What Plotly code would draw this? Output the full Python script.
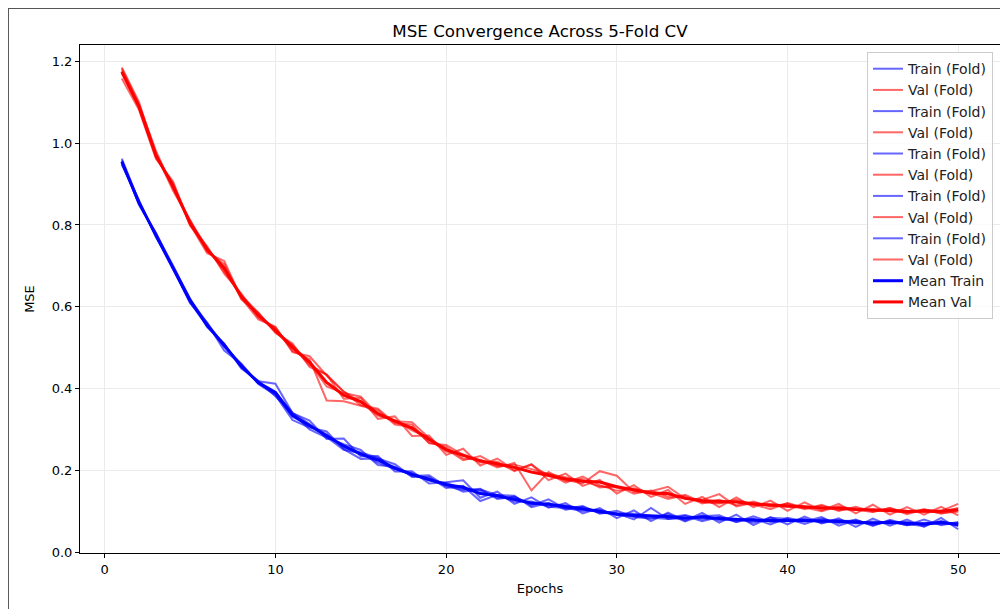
import numpy as np
import plotly.graph_objects as go

# Эпохи
epochs = list(range(1, 51))

# MSE на обучении по фолдам
train_f1 = [0.962, 0.858, 0.772, 0.690, 0.611, 0.552, 0.508, 0.452, 0.418, 0.412,
            0.340, 0.322, 0.277, 0.278, 0.234, 0.235, 0.197, 0.198, 0.168, 0.171,
            0.176, 0.133, 0.148, 0.118, 0.134, 0.109, 0.120, 0.095, 0.108, 0.083,
            0.102, 0.076, 0.097, 0.077, 0.096, 0.072, 0.092, 0.066, 0.086, 0.068,
            0.087, 0.070, 0.083, 0.062, 0.082, 0.065, 0.080, 0.062, 0.084, 0.056]
train_f2 = [0.951, 0.852, 0.779, 0.701, 0.618, 0.560, 0.493, 0.460, 0.411, 0.384,
            0.323, 0.305, 0.295, 0.252, 0.228, 0.229, 0.215, 0.184, 0.184, 0.157,
            0.162, 0.125, 0.140, 0.138, 0.110, 0.121, 0.104, 0.111, 0.096, 0.095,
            0.080, 0.108, 0.081, 0.083, 0.088, 0.090, 0.074, 0.082, 0.068, 0.084,
            0.075, 0.086, 0.065, 0.078, 0.066, 0.077, 0.066, 0.080, 0.066, 0.074]
train_f3 = [0.947, 0.861, 0.770, 0.698, 0.620, 0.550, 0.510, 0.449, 0.419, 0.381,
            0.339, 0.300, 0.280, 0.264, 0.250, 0.213, 0.209, 0.186, 0.188, 0.161,
            0.152, 0.155, 0.130, 0.136, 0.114, 0.129, 0.106, 0.113, 0.094, 0.101,
            0.086, 0.082, 0.093, 0.075, 0.090, 0.078, 0.082, 0.072, 0.084, 0.082,
            0.069, 0.082, 0.071, 0.080, 0.064, 0.079, 0.068, 0.064, 0.076, 0.064]
train_f4 = [0.958, 0.849, 0.781, 0.693, 0.609, 0.561, 0.502, 0.461, 0.413, 0.386,
            0.331, 0.309, 0.288, 0.255, 0.244, 0.231, 0.204, 0.193, 0.175, 0.169,
            0.155, 0.150, 0.133, 0.134, 0.118, 0.116, 0.114, 0.107, 0.099, 0.095,
            0.094, 0.089, 0.085, 0.091, 0.080, 0.085, 0.078, 0.081, 0.076, 0.078,
            0.080, 0.075, 0.079, 0.070, 0.075, 0.070, 0.073, 0.068, 0.072, 0.070]
train_f5 = [0.955, 0.856, 0.774, 0.694, 0.617, 0.554, 0.509, 0.453, 0.413, 0.389,
            0.341, 0.313, 0.281, 0.250, 0.242, 0.219, 0.203, 0.190, 0.176, 0.167,
            0.148, 0.153, 0.140, 0.124, 0.124, 0.111, 0.108, 0.101, 0.104, 0.091,
            0.088, 0.084, 0.081, 0.089, 0.076, 0.086, 0.074, 0.088, 0.074, 0.076,
            0.081, 0.072, 0.077, 0.076, 0.070, 0.075, 0.066, 0.072, 0.068, 0.072]

# MSE на валидации по фолдам
val_f1 = [1.182, 1.095, 0.981, 0.889, 0.812, 0.735, 0.704, 0.618, 0.586, 0.536,
          0.510, 0.453, 0.434, 0.375, 0.377, 0.326, 0.332, 0.284, 0.285, 0.238,
          0.253, 0.212, 0.229, 0.200, 0.215, 0.176, 0.192, 0.162, 0.177, 0.143,
          0.164, 0.135, 0.152, 0.118, 0.135, 0.110, 0.134, 0.110, 0.126, 0.101,
          0.122, 0.102, 0.118, 0.095, 0.116, 0.092, 0.110, 0.092, 0.111, 0.090]
val_f2 = [1.176, 1.087, 0.965, 0.902, 0.798, 0.748, 0.681, 0.632, 0.573, 0.549,
          0.492, 0.472, 0.371, 0.369, 0.358, 0.347, 0.312, 0.306, 0.268, 0.257,
          0.229, 0.226, 0.207, 0.218, 0.151, 0.196, 0.174, 0.179, 0.158, 0.162,
          0.143, 0.151, 0.135, 0.137, 0.119, 0.128, 0.115, 0.124, 0.111, 0.119,
          0.105, 0.116, 0.101, 0.111, 0.099, 0.108, 0.096, 0.105, 0.094, 0.103]
val_f3 = [1.158, 1.082, 0.962, 0.906, 0.801, 0.731, 0.712, 0.621, 0.569, 0.551,
          0.489, 0.479, 0.432, 0.392, 0.359, 0.351, 0.316, 0.312, 0.266, 0.262,
          0.238, 0.219, 0.221, 0.198, 0.214, 0.186, 0.177, 0.168, 0.198, 0.187,
          0.147, 0.149, 0.160, 0.131, 0.128, 0.142, 0.112, 0.121, 0.114, 0.111,
          0.108, 0.113, 0.103, 0.107, 0.102, 0.100, 0.098, 0.102, 0.096, 0.099]
val_f4 = [1.185, 1.101, 0.974, 0.884, 0.810, 0.744, 0.686, 0.629, 0.585, 0.538,
          0.504, 0.458, 0.434, 0.393, 0.366, 0.334, 0.323, 0.298, 0.279, 0.246,
          0.239, 0.224, 0.211, 0.214, 0.203, 0.191, 0.183, 0.174, 0.161, 0.158,
          0.152, 0.143, 0.141, 0.132, 0.124, 0.121, 0.123, 0.116, 0.117, 0.114,
          0.111, 0.108, 0.107, 0.104, 0.103, 0.104, 0.101, 0.099, 0.101, 0.118]
val_f5 = [1.171, 1.088, 0.970, 0.894, 0.803, 0.742, 0.691, 0.624, 0.581, 0.541,
          0.506, 0.463, 0.405, 0.389, 0.380, 0.337, 0.320, 0.318, 0.279, 0.251,
          0.225, 0.235, 0.213, 0.207, 0.196, 0.192, 0.170, 0.185, 0.164, 0.150,
          0.156, 0.145, 0.130, 0.140, 0.122, 0.119, 0.128, 0.117, 0.105, 0.120,
          0.109, 0.100, 0.112, 0.104, 0.098, 0.108, 0.093, 0.104, 0.099, 0.108]

train_folds = [train_f1, train_f2, train_f3, train_f4, train_f5]
val_folds = [val_f1, val_f2, val_f3, val_f4, val_f5]

# Средние по фолдам
mean_train = np.mean(train_folds, axis=0)
mean_val = np.mean(val_folds, axis=0)

FONT = "DejaVu Sans"

fig = go.Figure()

# Линии по фолдам
for tr, va in zip(train_folds, val_folds):
    fig.add_trace(go.Scatter(
        x=epochs, y=tr, mode="lines", name="Train (Fold)",
        line=dict(color="rgba(0,0,255,0.6)", width=2)
    ))
    fig.add_trace(go.Scatter(
        x=epochs, y=va, mode="lines", name="Val (Fold)",
        line=dict(color="rgba(255,0,0,0.6)", width=2)
    ))

# Средние линии
fig.add_trace(go.Scatter(
    x=epochs, y=mean_train, mode="lines", name="Mean Train",
    line=dict(color="#0000ff", width=3)
))
fig.add_trace(go.Scatter(
    x=epochs, y=mean_val, mode="lines", name="Mean Val",
    line=dict(color="#ff0000", width=3)
))

axis_common = dict(
    showline=True, linecolor="black", linewidth=1, mirror=True,
    ticks="outside", ticklen=4, tickcolor="black",
    showgrid=True, gridcolor="#ebebeb", gridwidth=1,
    zeroline=False,
    tickfont=dict(family=FONT, size=13, color="black"),
)

fig.update_layout(
    width=1008, height=609,
    margin=dict(l=72, r=16, t=37, b=64),
    paper_bgcolor="white", plot_bgcolor="white",
    font=dict(family=FONT, size=13, color="black"),
    title=dict(
        text="MSE Convergence Across 5-Fold CV",
        x=0.5278, xanchor="center", y=0.9622, yanchor="middle",
        font=dict(family=FONT, size=16.7, color="black")
    ),
    xaxis=dict(
        axis_common, range=[-1.45, 52.45], tickvals=[0, 10, 20, 30, 40, 50],
        title=dict(text="Epochs", font=dict(family=FONT, size=13), standoff=8)
    ),
    yaxis=dict(
        axis_common, range=[-0.002, 1.24],
        tickvals=[0.0, 0.2, 0.4, 0.6, 0.8, 1.0, 1.2], tickformat=".1f",
        title=dict(text="MSE", font=dict(family=FONT, size=13), standoff=14)
    ),
    legend=dict(
        x=0.9924, y=0.986, xanchor="right", yanchor="top",
        bgcolor="rgba(255,255,255,0.8)", bordercolor="#cccccc", borderwidth=1,
        font=dict(family=FONT, size=14, color="#222222"),
        tracegroupgap=0
    ),
    showlegend=True,
)

# Рамка вокруг фигуры
fig.add_shape(
    type="rect", xref="paper", yref="paper",
    x0=-0.0783, x1=1.2, y0=-0.3, y1=1.0728,
    line=dict(color="#555555", width=2), fillcolor="rgba(0,0,0,0)",
    layer="above"
)

fig.write_html("out.html")
